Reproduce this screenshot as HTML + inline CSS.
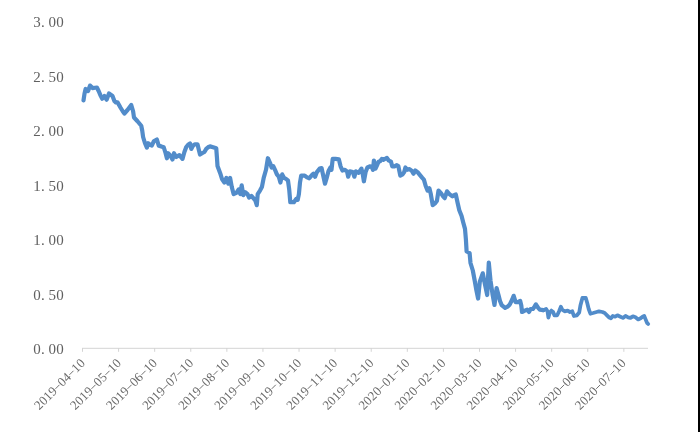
<!DOCTYPE html>
<html><head><meta charset="utf-8"><title>chart</title>
<style>
html,body{margin:0;padding:0;background:#fff;}
body{width:700px;height:432px;overflow:hidden;position:relative;font-family:"Liberation Serif",serif;}
svg{will-change:transform;position:absolute;left:0;top:0;display:block;}
.yl text{font-family:"Liberation Serif",serif;font-size:15px;fill:#606060;}
.xl text{font-family:"Liberation Serif",serif;font-size:13px;fill:#6a6a6a;}
</style></head>
<body>
<svg width="700" height="432" viewBox="0 0 700 432">
<rect x="0" y="0" width="700" height="432" fill="#ffffff"/>
<path d="M82 348.3 H648" stroke="#d4d4d4" stroke-width="1" fill="none"/>
<path d="M82.50 348 V351.8 M118.59 348 V351.8 M154.68 348 V351.8 M190.77 348 V351.8 M226.86 348 V351.8 M262.95 348 V351.8 M299.04 348 V351.8 M335.13 348 V351.8 M371.22 348 V351.8 M407.31 348 V351.8 M443.40 348 V351.8 M479.49 348 V351.8 M515.58 348 V351.8 M551.67 348 V351.8 M587.76 348 V351.8 M623.85 348 V351.8" stroke="#d4d4d4" stroke-width="1" fill="none"/>
<g class="yl">
<text x="33.25 40.90 48.55 56.20" y="27.20">3.00</text>
<text x="33.25 40.90 48.55 56.20" y="82.20">2.50</text>
<text x="33.25 40.90 48.55 56.20" y="136.00">2.00</text>
<text x="33.25 40.90 48.55 56.20" y="191.30">1.50</text>
<text x="33.25 40.90 48.55 56.20" y="245.10">1.00</text>
<text x="33.25 40.90 48.55 56.20" y="300.10">0.50</text>
<text x="33.25 40.90 48.55 56.20" y="353.90">0.00</text>
</g>
<g class="xl">
<g transform="translate(85.90 363.9) rotate(-45)"><text x="-66.00 -59.40 -52.80 -46.20 -39.60 -33.00 -26.40 -19.80 -13.20 -6.60" y="0">2019 04 10</text><path d="M-39.15 -3.9 h5.70 M-19.35 -3.9 h5.70" stroke="#6a6a6a" stroke-width="0.9" fill="none"/></g>
<g transform="translate(121.95 363.9) rotate(-45)"><text x="-66.00 -59.40 -52.80 -46.20 -39.60 -33.00 -26.40 -19.80 -13.20 -6.60" y="0">2019 05 10</text><path d="M-39.15 -3.9 h5.70 M-19.35 -3.9 h5.70" stroke="#6a6a6a" stroke-width="0.9" fill="none"/></g>
<g transform="translate(158.00 363.9) rotate(-45)"><text x="-66.00 -59.40 -52.80 -46.20 -39.60 -33.00 -26.40 -19.80 -13.20 -6.60" y="0">2019 06 10</text><path d="M-39.15 -3.9 h5.70 M-19.35 -3.9 h5.70" stroke="#6a6a6a" stroke-width="0.9" fill="none"/></g>
<g transform="translate(194.05 363.9) rotate(-45)"><text x="-66.00 -59.40 -52.80 -46.20 -39.60 -33.00 -26.40 -19.80 -13.20 -6.60" y="0">2019 07 10</text><path d="M-39.15 -3.9 h5.70 M-19.35 -3.9 h5.70" stroke="#6a6a6a" stroke-width="0.9" fill="none"/></g>
<g transform="translate(230.10 363.9) rotate(-45)"><text x="-66.00 -59.40 -52.80 -46.20 -39.60 -33.00 -26.40 -19.80 -13.20 -6.60" y="0">2019 08 10</text><path d="M-39.15 -3.9 h5.70 M-19.35 -3.9 h5.70" stroke="#6a6a6a" stroke-width="0.9" fill="none"/></g>
<g transform="translate(266.15 363.9) rotate(-45)"><text x="-66.00 -59.40 -52.80 -46.20 -39.60 -33.00 -26.40 -19.80 -13.20 -6.60" y="0">2019 09 10</text><path d="M-39.15 -3.9 h5.70 M-19.35 -3.9 h5.70" stroke="#6a6a6a" stroke-width="0.9" fill="none"/></g>
<g transform="translate(302.20 363.9) rotate(-45)"><text x="-66.00 -59.40 -52.80 -46.20 -39.60 -33.00 -26.40 -19.80 -13.20 -6.60" y="0">2019 10 10</text><path d="M-39.15 -3.9 h5.70 M-19.35 -3.9 h5.70" stroke="#6a6a6a" stroke-width="0.9" fill="none"/></g>
<g transform="translate(338.25 363.9) rotate(-45)"><text x="-66.00 -59.40 -52.80 -46.20 -39.60 -33.00 -26.40 -19.80 -13.20 -6.60" y="0">2019 11 10</text><path d="M-39.15 -3.9 h5.70 M-19.35 -3.9 h5.70" stroke="#6a6a6a" stroke-width="0.9" fill="none"/></g>
<g transform="translate(374.30 363.9) rotate(-45)"><text x="-66.00 -59.40 -52.80 -46.20 -39.60 -33.00 -26.40 -19.80 -13.20 -6.60" y="0">2019 12 10</text><path d="M-39.15 -3.9 h5.70 M-19.35 -3.9 h5.70" stroke="#6a6a6a" stroke-width="0.9" fill="none"/></g>
<g transform="translate(410.35 363.9) rotate(-45)"><text x="-66.00 -59.40 -52.80 -46.20 -39.60 -33.00 -26.40 -19.80 -13.20 -6.60" y="0">2020 01 10</text><path d="M-39.15 -3.9 h5.70 M-19.35 -3.9 h5.70" stroke="#6a6a6a" stroke-width="0.9" fill="none"/></g>
<g transform="translate(446.40 363.9) rotate(-45)"><text x="-66.00 -59.40 -52.80 -46.20 -39.60 -33.00 -26.40 -19.80 -13.20 -6.60" y="0">2020 02 10</text><path d="M-39.15 -3.9 h5.70 M-19.35 -3.9 h5.70" stroke="#6a6a6a" stroke-width="0.9" fill="none"/></g>
<g transform="translate(482.45 363.9) rotate(-45)"><text x="-66.00 -59.40 -52.80 -46.20 -39.60 -33.00 -26.40 -19.80 -13.20 -6.60" y="0">2020 03 10</text><path d="M-39.15 -3.9 h5.70 M-19.35 -3.9 h5.70" stroke="#6a6a6a" stroke-width="0.9" fill="none"/></g>
<g transform="translate(518.50 363.9) rotate(-45)"><text x="-66.00 -59.40 -52.80 -46.20 -39.60 -33.00 -26.40 -19.80 -13.20 -6.60" y="0">2020 04 10</text><path d="M-39.15 -3.9 h5.70 M-19.35 -3.9 h5.70" stroke="#6a6a6a" stroke-width="0.9" fill="none"/></g>
<g transform="translate(554.55 363.9) rotate(-45)"><text x="-66.00 -59.40 -52.80 -46.20 -39.60 -33.00 -26.40 -19.80 -13.20 -6.60" y="0">2020 05 10</text><path d="M-39.15 -3.9 h5.70 M-19.35 -3.9 h5.70" stroke="#6a6a6a" stroke-width="0.9" fill="none"/></g>
<g transform="translate(590.60 363.9) rotate(-45)"><text x="-66.00 -59.40 -52.80 -46.20 -39.60 -33.00 -26.40 -19.80 -13.20 -6.60" y="0">2020 06 10</text><path d="M-39.15 -3.9 h5.70 M-19.35 -3.9 h5.70" stroke="#6a6a6a" stroke-width="0.9" fill="none"/></g>
<g transform="translate(626.65 363.9) rotate(-45)"><text x="-66.00 -59.40 -52.80 -46.20 -39.60 -33.00 -26.40 -19.80 -13.20 -6.60" y="0">2020 07 10</text><path d="M-39.15 -3.9 h5.70 M-19.35 -3.9 h5.70" stroke="#6a6a6a" stroke-width="0.9" fill="none"/></g>
</g>
<polyline fill="none" stroke="#528CCA" stroke-width="4.2" stroke-linejoin="round" stroke-linecap="round" points="83.5,100.4 84.5,93.75 85.6,89 88.1,91 90,85.6 92.5,88.1 95,87.75 96.9,87.5 98.75,91.25 100.6,95.6 102.25,98.75 104.4,96 106.6,99.75 109,93.5 112.5,96 114.4,101 115.9,102.5 117.5,102.25 120.6,107.75 122.75,111.25 124.4,113.5 127.5,110 131.25,105 133.1,111.25 134,117.5 137.5,121.25 141.25,125.75 142.25,130.75 143.1,137 145,143.25 146.9,147.6 148.1,143.25 150,144.75 151.9,145.5 153.75,141.4 156.9,139.5 158.75,145.75 161.25,146.4 163.75,147.25 165.6,153.25 166.9,158.25 168.1,153.25 170.6,156 172.5,159.5 174,153.25 176.25,157 179.4,155.1 182.5,158.9 184.4,152 186.25,147 188.1,144.75 190,143.5 191.25,148.9 193.1,145.5 195,144.25 197.5,144.25 198.75,149.5 200,154.5 202.5,153 204.4,152 206.25,148.9 208.1,147.25 210,146.4 213.1,147.25 216.25,148.25 216.9,157 217.5,166 220.2,173.2 222,179 224.4,182.5 226.4,177.9 228.3,183.7 230.1,177.9 231.8,187.1 233.6,194.1 236.4,192.9 238.7,189.4 240.3,194.1 241.7,185.3 243.3,195.2 245.2,192.2 247.5,194.1 249.1,197.5 251.4,195.9 253.8,198.7 255.4,200.6 256.8,205.2 257.7,194.1 260,190.6 261.9,187.1 263.7,177.9 266,169.8 267.9,158.2 270,162.8 271.6,167.5 273.4,166.3 275,169.8 276.9,174.4 278.8,176.7 280.4,182.5 282.2,174.4 284.1,177.9 286.2,179 288,180.6 289.2,189.4 290.3,202.2 293.9,202.2 296.2,198.9 297.7,199.9 298.9,194.1 300,182.5 301.2,175.6 304.7,175.6 307,177.4 309.3,178.3 311.9,175.1 313.5,173.7 315.1,176.7 316.9,172.1 319.7,168.6 321.6,168.1 322.7,173.2 325,183.7 326.7,177.9 328.5,170.9 330.4,167.5 331.5,169.8 332.7,158.9 335.5,158.9 338.9,159.4 340.6,166.3 342.4,170.5 344.7,169.8 347,171.4 348.2,176.7 349.8,171.4 352.8,172.1 354.4,176.7 355.8,171.4 358.6,172.8 361.4,168.6 362.8,174.4 363.9,181.3 365.6,172.1 367.4,167.5 370.2,166.3 372,167.5 373,169.8 373.9,160.5 375.5,168.6 377.1,165.1 378.5,161.7 380.1,161.2 381.8,158.9 383.6,159.8 385.2,158.8 386.9,157.9 388.7,160.5 391,161.7 392.2,166.3 394.5,166.3 396.8,165.1 398.4,166.3 400.3,175.6 402.6,174.4 404.2,172.1 405.4,167.5 407.2,169.8 409.5,169.1 411.9,170.9 413.5,173.7 415.3,170.5 417.6,172.1 420,175.1 422.3,177.9 423.9,179.7 425.7,186 427.6,190.6 429.4,188.3 430.8,194.1 432.7,205.2 435,203.3 436.9,201 438.5,190.6 440.8,192.9 443.1,196.4 444.7,198.2 447,191.3 449.4,194.1 452.4,196.4 454,195.2 455.8,194.5 457.7,203.3 459.3,210.3 461.6,216.1 463.1,222 465,228.9 465.9,239.4 466.6,251.4 469.6,253 470.5,263 472.8,270.5 474.5,279.5 476.4,290.4 478.1,298.5 479.8,281.7 482.8,273.3 484.4,281.7 487.2,295 488.8,262.6 490.5,280.5 492.5,294 494.5,305 496.6,288.1 498.5,295 500,301 501.7,305.1 505.1,307.9 507.5,306.7 509.8,304.4 512.1,299.8 513.7,295.8 515.6,302.1 517.9,302.1 520.2,300.9 521.3,305.6 522,312 524.8,310.6 527.1,309.7 529,312 530.6,309 532.9,309 534.5,306.7 535.9,304.4 538.2,307.9 539.8,309.7 543.3,310.2"/>
<polyline fill="none" stroke="#528CCA" stroke-width="3.8" stroke-linejoin="round" stroke-linecap="round" points="543.3,310.2 546.1,309 547.5,311.3 548.4,317.6 549.8,312.5 551.4,310.6 553.1,312 554.4,315.3 557.2,315.3 559.1,311.3 560.9,306.7 562.3,309.7 564.6,311.3 567.6,310.6 570,312 572.3,311.3 573.9,316 576.9,315.3 579.2,312.5 580.4,305.6 582.4,298 585.8,298 587.3,303.2 588.7,309 590.4,313.7 593.1,313 596.6,312 598.9,311.3 602.4,312 604.7,313 607,315.3 609.3,317.6 610.9,318.3 612.8,316 615.1,316.7 617.4,315.3 620.4,316.7 622.9,317.9 625.5,315.9 628.1,317.3 630.5,317.9 632.9,316.3 635.5,317.3 638.2,319.4 640.6,318.3 642.6,316.7 644.2,315.9 645.6,319.4 647,322.8 648.2,324"/>
<rect x="698" y="0" width="2" height="432" fill="#000000"/>
</svg>
</body></html>
